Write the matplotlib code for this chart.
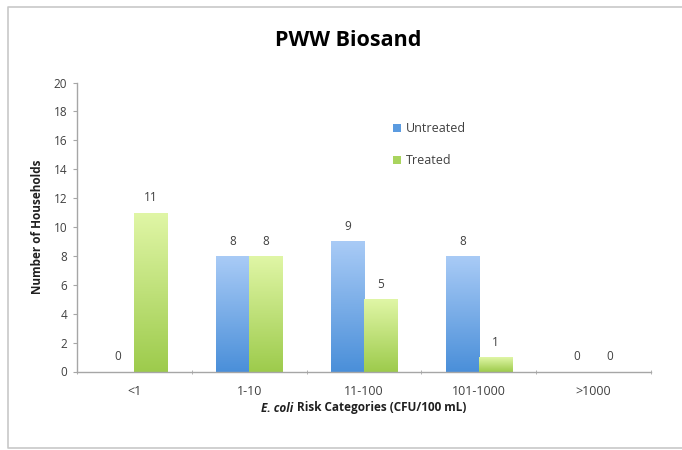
import numpy as np
import matplotlib
matplotlib.use('Agg')
import matplotlib.pyplot as plt
from matplotlib.lines import Line2D
from matplotlib.patches import Patch
from matplotlib.colors import LinearSegmentedColormap
from matplotlib.offsetbox import TextArea, HPacker, AnchoredOffsetbox

categories = ['<1', '1-10', '11-100', '101-1000', '>1000']
untreated = [0, 8, 9, 8, 0]
treated = [11, 8, 5, 1, 0]
series_names = ['Untreated', 'Treated']

plt.rcParams['font.family'] = ['Open Sans', 'DejaVu Sans']

TEXT = '#404040'
AXIS = '#a6a6a6'

blue_map = LinearSegmentedColormap.from_list('blue', ['#4a8fd9', '#a9cbf6'])
green_map = LinearSegmentedColormap.from_list('green', ['#9dcb4c', '#e0f6a6'])


def gradient_bars(ax, bars, cmap):
    '''Paint each bar with a vertical gradient clipped to the bar shape.'''
    grad = np.linspace(0, 1, 256).reshape(-1, 1)
    for b in bars:
        x0, y0 = b.get_x(), b.get_y()
        w, h = b.get_width(), b.get_height()
        if h <= 0:
            continue
        im = ax.imshow(grad, cmap=cmap, origin='lower', aspect='auto',
                       extent=(x0, x0 + w, y0, y0 + h), zorder=2)
        im.set_clip_path(b)
        b.set_facecolor('none')


fig = plt.figure(figsize=(6.82, 4.5), dpi=100)
ax = fig.add_axes([77 / 682, 1 - 371.5 / 450, (651 - 77) / 682, (371.5 - 82.5) / 450])

# outer chart frame: top, left and bottom edges (right side runs off the picture)
fx = [1.0, 8 / 682, 8 / 682, 1.0]
fy = [1 - 7 / 450, 1 - 7 / 450, 1 - 448 / 450, 1 - 448 / 450]
fig.add_artist(Line2D(fx, fy, transform=fig.transFigure, color='#c8c8c8', linewidth=1.2))

x = np.arange(len(categories))
width = 0.288
b1 = ax.bar(x - width / 2, untreated, width, linewidth=0, zorder=2)
b2 = ax.bar(x + width / 2, treated, width, linewidth=0, zorder=2)
gradient_bars(ax, b1, blue_map)
gradient_bars(ax, b2, green_map)

for bars in (b1, b2):
    ax.bar_label(bars, padding=6, fontsize=8.5, color=TEXT)

ax.set_xlim(-0.5, len(categories) - 0.5)
ax.set_ylim(0, 20)
ax.set_yticks(range(0, 21, 2))
ax.set_xticks(x)
ax.set_xticklabels(categories)
ax.set_xticks(np.arange(-0.5, len(categories)), minor=True)
ax.tick_params(axis='x', which='major', length=0, pad=10, labelsize=9, labelcolor=TEXT)
ax.tick_params(axis='x', which='minor', length=3, color=AXIS, direction='inout')
ax.tick_params(axis='y', length=3, color=AXIS, labelsize=8.5, labelcolor=TEXT, pad=4)

for s in ['top', 'right']:
    ax.spines[s].set_visible(False)
for s in ['left', 'bottom']:
    ax.spines[s].set_color(AXIS)
    ax.spines[s].set_linewidth(1)

ax.set_ylabel('Number of Households', fontsize=8.5, fontweight='bold', color='#202020', labelpad=7)

# x label: italic species name followed by plain bold text
lbl_style = dict(fontsize=8.5, fontweight='bold', color='#202020')
part1 = TextArea('E. coli', textprops=dict(style='italic', **lbl_style))
part2 = TextArea('Risk Categories (CFU/100 mL)', textprops=lbl_style)
xlab = HPacker(children=[part1, part2], align='baseline', pad=0, sep=2.5)
fig.add_artist(AnchoredOffsetbox(loc='center', child=xlab, frameon=False, pad=0, borderpad=0,
                                 bbox_to_anchor=(364 / 682, 1 - 408 / 450),
                                 bbox_transform=fig.transFigure))

fig.text(348 / 682, 1 - 40 / 450, 'PWW Biosand', ha='center', va='center',
         fontsize=15.5, fontweight='bold', color='#000000')

handles = [Patch(facecolor='#5b9be0'), Patch(facecolor='#a9d45e')]
fig.legend(handles, series_names, loc='upper left', bbox_to_anchor=(387 / 682, 1 - 116 / 450),
           frameon=False, fontsize=9, handlelength=0.6, handleheight=0.6, handletextpad=0.4,
           labelspacing=1.5, labelcolor=TEXT, borderpad=0)

fig.savefig('out.png', dpi=100)
